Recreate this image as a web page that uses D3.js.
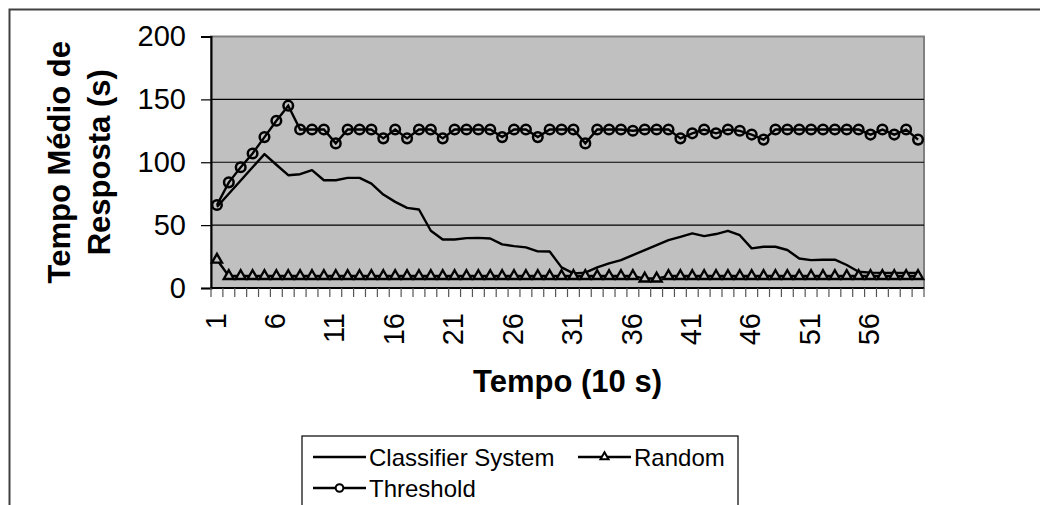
<!DOCTYPE html>
<html>
<head>
<meta charset="utf-8">
<script src="https://cdn.jsdelivr.net/npm/d3@7"></script>
<style>
  html, body { margin: 0; padding: 0; background: #fff; }
  svg { display: block; font-family: "Liberation Sans", Arial, sans-serif; }
</style>
</head>
<body>
<svg id="chart" width="1040" height="505"></svg>
<script>
// ---------- data ----------
const categories = d3.range(1, 61).map(String);
const tickLabels = ["1", "6", "11", "16", "21", "26", "31", "36", "41", "46", "51", "56"];
const yTicks = [0, 50, 100, 150, 200];

const classifierSystem = [64.5, 75, 85.5, 96, 106.5, 98, 89.7, 90.5, 93.7, 85.7,
  85.7, 87.6, 87.6, 83, 74.3, 68.5, 63.7, 62.4, 45.5, 38.6,
  38.6, 39.7, 39.9, 39.4, 34.7, 33.3, 32.3, 29.1, 29, 16.4,
  11.6, 12.2, 16.4, 19.6, 22.2, 26.2, 30.2, 34.1, 38.1, 40.7,
  43.4, 41.3, 42.9, 45.5, 42, 31.5, 32.8, 32.8, 30.2, 23.5,
  22.2, 22.5, 22.5, 18.3, 12.9, 12.2, 12, 12, 12, 12];

const random = [22.5, 9.5, 9.5, 9.5, 9.5, 9.5, 9.5, 9.5, 9.5, 9.5,
  9.5, 9.5, 9.5, 9.5, 9.5, 9.5, 9.5, 9.5, 9.5, 9.5,
  9.5, 9.5, 9.5, 9.5, 9.5, 9.5, 9.5, 9.5, 9.5, 9.5,
  9.5, 9.5, 9.5, 9.5, 9.5, 9.5, 7.5, 7.5, 9.5, 9.5,
  9.5, 9.5, 9.5, 9.5, 9.5, 9.5, 9.5, 9.5, 9.5, 9.5,
  9.5, 9.5, 9.5, 9.5, 9.5, 9.5, 9.5, 9.5, 9.5, 9.5];

const threshold = [66, 84, 96, 107, 120, 133, 145, 126, 126, 126,
  115, 126, 126, 126, 119, 126, 119, 126, 126, 119,
  126, 126, 126, 126, 120, 126, 126, 120, 126, 126,
  126, 115, 126, 126, 126, 125, 126, 126, 126, 119,
  123, 126, 123, 126, 125, 122, 118, 126, 126, 126,
  126, 126, 126, 126, 126, 122, 126, 122, 126, 118];

const seriesNames = ["Classifier System", "Random", "Threshold"];
const yTitleLines = ["Tempo Médio de", "Resposta (s)"];
const xTitle = "Tempo (10 s)";

// ---------- layout ----------
const svg = d3.select("#chart");
const plot = { left: 211, right: 924, top: 36.5, bottom: 288 };

const x = d3.scaleBand().domain(categories).range([plot.left, plot.right]).padding(0);
const y = d3.scaleLinear().domain([0, 200]).range([plot.bottom, plot.top]);
const cx = c => x(c) + x.bandwidth() / 2;

// outer chart border (runs off right/bottom)
svg.append("path")
  .attr("d", `M9.5,505 L9.5,9.5 L1040,9.5`)
  .attr("fill", "none").attr("stroke", "#404040").attr("stroke-width", 2);

// plot area
svg.append("rect")
  .attr("x", plot.left).attr("y", plot.top)
  .attr("width", plot.right - plot.left).attr("height", plot.bottom - plot.top)
  .attr("fill", "#c0c0c0").attr("stroke", "#808080").attr("stroke-width", 2);

// gridlines
svg.append("g").selectAll("line").data(yTicks.filter(v => v > 0 && v < 200)).join("line")
  .attr("x1", plot.left).attr("x2", plot.right)
  .attr("y1", d => y(d)).attr("y2", d => y(d))
  .attr("stroke", "#000").attr("stroke-width", 1.2);

// y axis
const yAxis = svg.append("g").attr("transform", `translate(${plot.left},0)`)
  .call(d3.axisLeft(y).tickValues(yTicks).tickSize(10).tickPadding(15).tickFormat(d3.format("d")));
yAxis.select(".domain").attr("stroke", "#000").attr("stroke-width", 2);
yAxis.selectAll(".tick line").attr("stroke", "#000").attr("stroke-width", 1.2);
yAxis.selectAll(".tick text").attr("font-size", 29).attr("fill", "#000")
  .attr("font-family", "'Liberation Sans', Arial, sans-serif");

// x axis line
svg.append("line")
  .attr("x1", plot.left).attr("x2", plot.right)
  .attr("y1", plot.bottom).attr("y2", plot.bottom)
  .attr("stroke", "#000").attr("stroke-width", 2);

// x ticks at category boundaries
const boundaries = categories.map(c => x(c)).concat([x(categories[categories.length - 1]) + x.bandwidth()]);
svg.append("g").selectAll("line").data(boundaries).join("line")
  .attr("x1", d => d).attr("x2", d => d)
  .attr("y1", plot.bottom).attr("y2", plot.bottom + 9)
  .attr("stroke", "#555").attr("stroke-width", 1.2);

// x tick labels (rotated)
svg.append("g").selectAll("text").data(tickLabels).join("text")
  .attr("transform", d => `translate(${cx(d)},313) rotate(-90)`)
  .attr("text-anchor", "end").attr("dy", "0.3em")
  .attr("font-size", 29).attr("fill", "#000")
  .text(d => d);

// axis titles
svg.append("text")
  .attr("x", (plot.left + plot.right) / 2).attr("y", 392)
  .attr("text-anchor", "middle").attr("font-size", 31).attr("font-weight", "bold")
  .text(xTitle);

svg.append("g").selectAll("text").data(yTitleLines).join("text")
  .attr("transform", (d, i) => `translate(${70 + i * 40},${(plot.top + plot.bottom) / 2}) rotate(-90)`)
  .attr("text-anchor", "middle").attr("font-size", 31).attr("font-weight", "bold")
  .text(d => d);

// ---------- series ----------
const line = d3.line().x((d, i) => cx(categories[i])).y(d => y(d));

const gSeries = svg.append("g");
gSeries.append("path").datum(classifierSystem)
  .attr("d", line).attr("fill", "none").attr("stroke", "#000").attr("stroke-width", 2.4)
  .attr("stroke-linejoin", "round");

gSeries.append("path").datum(random)
  .attr("d", line).attr("fill", "none").attr("stroke", "#000").attr("stroke-width", 2.4);
const tri = d3.symbol().type(d3.symbolTriangle).size(44);
gSeries.append("g").selectAll("path").data(random).join("path")
  .attr("transform", (d, i) => `translate(${cx(categories[i])},${y(d)})`)
  .attr("d", tri).attr("fill", "#c0c0c0").attr("stroke", "#000").attr("stroke-width", 2.4);

gSeries.append("path").datum(threshold)
  .attr("d", line).attr("fill", "none").attr("stroke", "#000").attr("stroke-width", 2.4);
gSeries.append("g").selectAll("circle").data(threshold).join("circle")
  .attr("cx", (d, i) => cx(categories[i])).attr("cy", d => y(d)).attr("r", 4.8)
  .attr("fill", "none").attr("stroke", "#000").attr("stroke-width", 2.5);

// ---------- legend ----------
const legend = svg.append("g");
legend.append("rect").attr("x", 302).attr("y", 436).attr("width", 436).attr("height", 100)
  .attr("fill", "#fff").attr("stroke", "#000").attr("stroke-width", 1.2);

const legendItems = [
  { name: seriesNames[0], x: 313, y: 457, marker: null },
  { name: seriesNames[1], x: 578, y: 457, marker: "tri" },
  { name: seriesNames[2], x: 313, y: 488, marker: "circle" }
];
legendItems.forEach(it => {
  const g = legend.append("g");
  g.append("line").attr("x1", it.x).attr("x2", it.x + 53).attr("y1", it.y).attr("y2", it.y)
    .attr("stroke", "#000").attr("stroke-width", 2.4);
  if (it.marker === "tri") {
    g.append("path").attr("transform", `translate(${it.x + 26.5},${it.y})`)
      .attr("d", d3.symbol().type(d3.symbolTriangle).size(28))
      .attr("fill", "#fff").attr("stroke", "#000").attr("stroke-width", 2);
  } else if (it.marker === "circle") {
    g.append("circle").attr("cx", it.x + 26.5).attr("cy", it.y).attr("r", 3.8)
      .attr("fill", "#fff").attr("stroke", "#000").attr("stroke-width", 2);
  }
  g.append("text").attr("x", it.x + 56).attr("y", it.y + 8.5)
    .attr("font-size", 24).attr("fill", "#000").text(it.name);
});
</script>
</body>
</html>
